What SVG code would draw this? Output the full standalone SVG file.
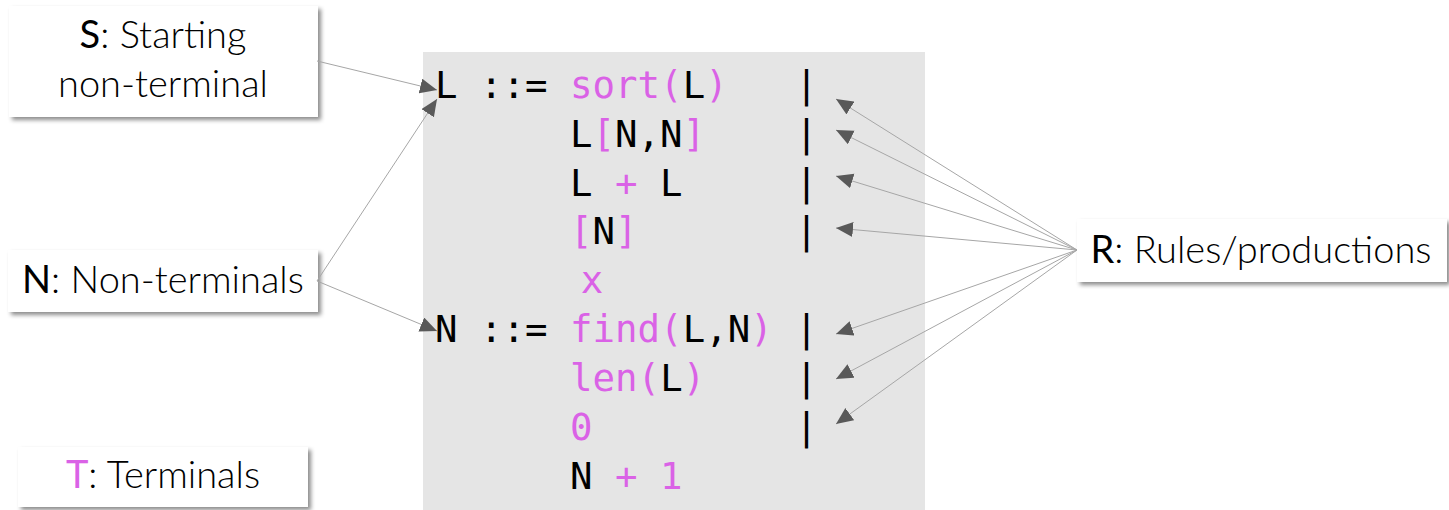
<svg xmlns="http://www.w3.org/2000/svg" width="1449" height="510" viewBox="0 0 1449 510">
  <defs>
    <filter id="shadow" x="-10%" y="-20%" width="130%" height="150%">
      <feDropShadow dx="3" dy="3" stdDeviation="2" flood-color="#000" flood-opacity="0.45"/>
    </filter>
    <marker id="head" markerUnits="userSpaceOnUse" markerWidth="18" markerHeight="16" refX="17" refY="7.5" orient="auto">
      <path d="M0,0 L17,7.5 L0,15 z" fill="#595959"/>
    </marker>
    <style>
      .box { fill: #ffffff; filter: url(#shadow); }
      .label { font-family: Lato, "Open Sans", "Liberation Sans", sans-serif; font-size: 38px; font-weight: 300; fill: #000; text-anchor: middle; }
      .label .key { font-weight: 400; }
      .code { font-family: "DejaVu Sans Mono", "Liberation Mono", monospace; font-size: 37.4px; fill: #000; }
      .t { fill: #DA62E6; }
      .link { stroke: #A6A6A6; stroke-width: 1; fill: none; marker-end: url(#head); }
    </style>
  </defs>

  <!-- grammar panel -->
  <g id="grammar">
    <rect x="423" y="52" width="502" height="458" fill="#E5E5E5"/>
    <text class="code" xml:space="preserve" x="435" y="98">L ::= <tspan class="t">sort(</tspan>L<tspan class="t">)</tspan>   |</text>
    <text class="code" xml:space="preserve" x="435" y="147">      L<tspan class="t">[</tspan>N,N<tspan class="t">]</tspan>    |</text>
    <text class="code" xml:space="preserve" x="435" y="195.5">      L <tspan class="t">+</tspan> L     |</text>
    <text class="code" xml:space="preserve" x="435" y="244">      <tspan class="t">[</tspan>N<tspan class="t">]</tspan>       |</text>
    <text class="code t" x="592" y="293" text-anchor="middle">x</text>
    <text class="code" xml:space="preserve" x="435" y="342">N ::= <tspan class="t">find(</tspan>L,N<tspan class="t">)</tspan> |</text>
    <text class="code" xml:space="preserve" x="435" y="390.5">      <tspan class="t">len(</tspan>L<tspan class="t">)</tspan>    |</text>
    <text class="code" xml:space="preserve" x="435" y="439.5">      <tspan class="t">0</tspan>         |</text>
    <text class="code" xml:space="preserve" x="435" y="488.5">      N <tspan class="t">+ 1</tspan></text>
  </g>

  <!-- legend boxes -->
  <g id="start">
    <rect class="box" x="9" y="6" width="309" height="111"/>
    <text class="label" x="163" y="48"><tspan class="key">S</tspan>: Starting</text>
    <text class="label" x="163" y="97">non-terminal</text>
  </g>
  <g id="nonterminals">
    <rect class="box" x="8" y="250" width="310" height="62"/>
    <text class="label" x="163" y="293"><tspan class="key">N</tspan>: Non-terminals</text>
  </g>
  <g id="terminals">
    <rect class="box" x="18" y="447" width="290" height="60"/>
    <text class="label" x="163" y="488"><tspan class="key t">T</tspan>: Terminals</text>
  </g>
  <g id="rules">
    <rect class="box" x="1077" y="219" width="370" height="63"/>
    <text class="label" x="1261" y="263"><tspan class="key">R</tspan>: Rules/productions</text>
  </g>

  <!-- connectors -->
  <g id="connectors">
    <line class="link" x1="317" y1="61" x2="437" y2="90"/>
    <line class="link" x1="317" y1="281" x2="437" y2="99"/>
    <line class="link" x1="317" y1="281" x2="437" y2="331"/>
    <line class="link" x1="1077" y1="250" x2="836" y2="99"/>
    <line class="link" x1="1077" y1="250" x2="836" y2="130"/>
    <line class="link" x1="1077" y1="250" x2="836" y2="176"/>
    <line class="link" x1="1077" y1="250" x2="836" y2="228"/>
    <line class="link" x1="1077" y1="250" x2="836" y2="334"/>
    <line class="link" x1="1077" y1="250" x2="836" y2="379"/>
    <line class="link" x1="1077" y1="250" x2="836" y2="424"/>
  </g>
</svg>
